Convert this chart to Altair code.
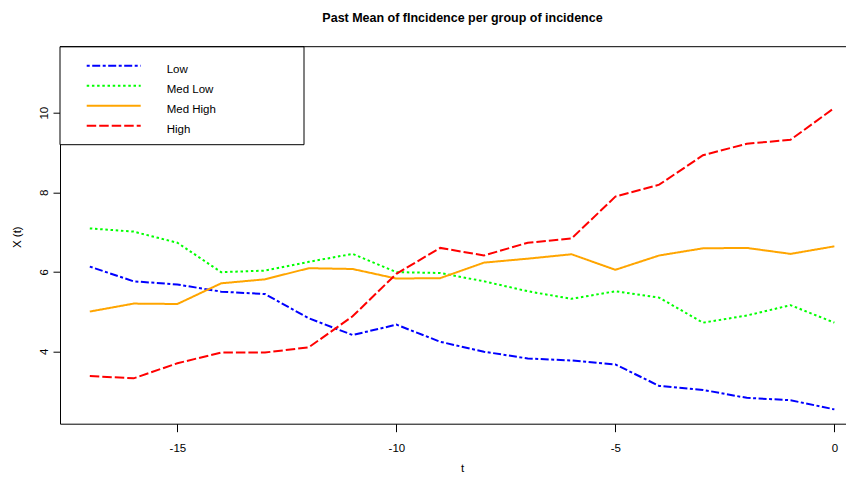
import altair as alt
import pandas as pd

# ---- data ----
t = list(range(-17, 1))
low = [6.13, 5.76, 5.68, 5.50, 5.44, 4.83, 4.41, 4.67, 4.24, 3.99, 3.82, 3.77, 3.67, 3.13, 3.03, 2.83, 2.77, 2.54]
med_low = [7.09, 7.01, 6.73, 5.99, 6.03, 6.25, 6.45, 5.99, 5.97, 5.76, 5.51, 5.32, 5.51, 5.35, 4.72, 4.90, 5.16, 4.72]
med_high = [5.00, 5.20, 5.19, 5.71, 5.81, 6.09, 6.07, 5.83, 5.84, 6.23, 6.33, 6.44, 6.05, 6.41, 6.59, 6.60, 6.45, 6.64]
high = [3.38, 3.32, 3.70, 3.97, 3.97, 4.10, 4.88, 5.95, 6.60, 6.41, 6.73, 6.84, 7.89, 8.19, 8.93, 9.22, 9.32, 10.12]

groups = ["Low", "Med Low", "Med High", "High"]
colors = ["#0000FF", "#00FF00", "#FFA500", "#FF0000"]
dashes = [[3, 2.5, 8, 2.5], [2.5, 2.7], [1, 0], [9.5, 3]]
x_ticks = [-15, -10, -5, 0]
y_ticks = [4, 6, 8, 10]

rows = []
for name, vals in zip(groups, [low, med_low, med_high, high]):
    for tt, v in zip(t, vals):
        rows.append({"t": tt, "value": v, "group": name})
df = pd.DataFrame(rows)

FONT = "Liberation Sans Narrow, Arial Narrow, Liberation Sans, Arial, sans-serif"
W, H = 786, 377
PX_PER_UNIT = 43.8
X_MIN = -17.68
X_MAX = X_MIN + W / PX_PER_UNIT

lines = alt.Chart(df).mark_line(strokeWidth=2).encode(
    x=alt.X("t:Q", scale=alt.Scale(domain=[X_MIN, X_MAX], nice=False, zero=False),
            axis=alt.Axis(values=x_ticks, title="t", tickSize=8, labelPadding=11,
                          labelExpr="datum.value < 0 ? '-' + abs(datum.value) : '' + datum.value",
                          titleX=402, titleY=48, titleBaseline="alphabetic",
                          titleAlign="center")),
    y=alt.Y("value:Q", scale=alt.Scale(domain=[2.18, 11.66], nice=False, zero=False),
            axis=alt.Axis(values=y_ticks, title="X (t)", tickSize=7, labelPadding=6,
                          labelAngle=-90, labelAlign="center", labelBaseline="alphabetic",
                          titleAngle=-90, titleX=-43, titleY=190, titleBaseline="middle",
                          titleAlign="center")),
    color=alt.Color("group:N", scale=alt.Scale(domain=groups, range=colors),
                    sort=groups, title=None,
                    legend=alt.Legend(orient="none", legendX=25.7, legendY=9.25,
                                      symbolType="stroke", symbolSize=2916,
                                      symbolStrokeWidth=2, clipHeight=19.5,
                                      rowPadding=0, padding=0, labelOffset=25,
                                      labelBaseline="line-top",
                                      labelFont=FONT, labelFontSize=11.5,
                                      labelColor="black")),
    strokeDash=alt.StrokeDash("group:N", scale=alt.Scale(domain=groups, range=dashes),
                              sort=groups, title=None, legend=None),
)

box = alt.Chart(alt.Data(values=[{"a": 1}])).mark_rect(
    fill="white", stroke="black", strokeWidth=1
).encode(x=alt.value(0), x2=alt.value(244), y=alt.value(0), y2=alt.value(98))

top_border = alt.Chart(alt.Data(values=[{"a": 1}])).mark_rule(
    color="black", strokeWidth=1
).encode(x=alt.value(0), x2=alt.value(W), y=alt.value(0))

chart = alt.layer(box, top_border, lines).properties(
    width=W, height=H,
    title=alt.TitleParams(
        "Past Mean of fIncidence per group of incidence",
        font=FONT, fontSize=12.5, fontWeight="bold", color="black",
        anchor="middle", frame="group", baseline="alphabetic", offset=12, dx=9.5),
    padding={"left": 52, "top": 38.7, "right": 0, "bottom": 52},
    autosize=alt.AutoSizeParams(type="none"),
).configure(
    style={"guide-label": {"lineHeight": 7}}
).configure_view(stroke=None).configure_axis(
    labelFont=FONT, labelFontSize=11.5, labelColor="black",
    titleFont=FONT, titleFontSize=11.5, titleColor="black", titleFontWeight="normal",
    domainColor="black", tickColor="black", grid=False,
    domainWidth=1, tickWidth=1,
)

chart.save("out.html", embed_options={"renderer": "svg", "actions": False})
